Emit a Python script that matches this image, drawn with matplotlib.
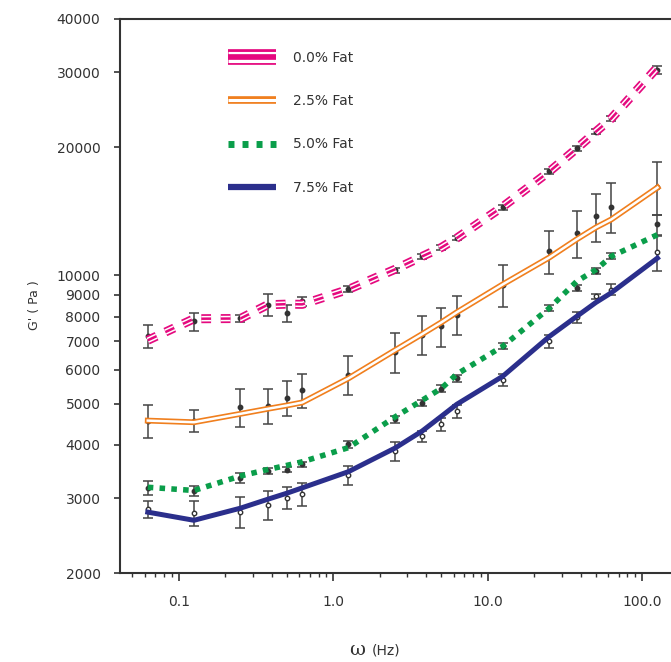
import matplotlib
matplotlib.use('Agg')
import matplotlib.pyplot as plt
from matplotlib.lines import Line2D
from matplotlib.ticker import FixedLocator, FixedFormatter, NullLocator, NullFormatter, LogLocator

# frecuencias (Hz)
freq = [0.0628, 0.125, 0.25, 0.375, 0.5, 0.628, 1.25, 2.5, 3.75, 5.0, 6.28,
        12.5, 25, 37.5, 50, 62.8, 125]

# G' medido y desviacion, por contenido de grasa
g0 = [7190, 7800, 7940, 8540, 8160, 8690, 9290, 10270, 11080, 11630, 12230,
      14460, 17540, 19880, 21760, 23380, 30340]
g0_err = [450, 380, 150, 500, 370, 200, 150, 150, 150, 150, 150,
          200, 250, 250, 300, 300, 700]
g0_fit = [7040, 7910, 7920, 8530, 8560, 8550, 9270, 10330, 11080, 11630, 12230,
          14510, 17540, 19850, 21760, 23350, 30800]

g25 = [4550, 4560, 4900, 4940, 5160, 5370, 5850, 6610, 7260, 7590, 8090,
       9510, 11380, 12560, 13750, 14510, 16170]
g25_err = [400, 275, 500, 470, 480, 500, 600, 710, 760, 810, 860,
           1090, 1330, 1570, 1800, 1950, 2300]
g25_fit = [4560, 4520, 4730, 4860, 4950, 5030, 5730, 6670, 7280, 7760, 8190,
           9530, 11020, 12150, 12960, 13530, 16080]

g50 = [3170, 3115, 3340, 3470, 3500, 3600, 4010, 4590, 5020, 5420, 5740,
       6820, 8380, 9340, 10220, 11080, 13170]
g50_err = [120, 80, 90, 60, 50, 50, 80, 80, 80, 100, 110,
           120, 130, 150, 170, 180, 700]
g50_fit = [3180, 3125, 3380, 3500, 3580, 3650, 3940, 4650, 5090, 5430, 5860,
           6820, 8380, 9680, 10310, 11080, 12460]

g75 = [2830, 2770, 2780, 2890, 3000, 3070, 3390, 3870, 4190, 4470, 4800,
       5690, 7000, 7970, 8930, 9260, 11320]
g75_err = [130, 190, 230, 220, 180, 190, 170, 200, 130, 150, 170,
           180, 250, 240, 130, 280, 1080]
g75_fit = [2780, 2660, 2840, 2980, 3080, 3170, 3460, 3930, 4310, 4670, 4980,
           5800, 7190, 8010, 8640, 9100, 10980]

labels = ['0.0% Fat', '2.5% Fat', '5.0% Fat', '7.5% Fat']
y_ticks = [2000, 3000, 4000, 5000, 6000, 7000, 8000, 9000, 10000, 20000, 30000, 40000]
x_ticks = [0.1, 1, 10, 100]
x_ticklabels = ['0.1', '1.0', '10.0', '100.0']

plt.rcParams['lines.scale_dashes'] = False
mag = '#e5097f'
ora = '#f07f1e'
gre = '#0a9e4a'
nav = '#2b2f8c'
gris = '#333333'

fig = plt.figure(figsize=(6.71, 6.62), dpi=100)
ax = fig.add_axes([0.1788, 0.1344, 0.8212, 0.8369])
ax.set_xscale('log')
ax.set_yscale('log')

# puntos con barras de error
eb = dict(fmt='o', ms=3.2, color=gris, ecolor='#444444', elinewidth=1.1,
          capsize=3.5, capthick=1.1, zorder=2)
ax.errorbar(freq, g0, yerr=g0_err, **eb)
ax.errorbar(freq, g25, yerr=g25_err, **eb)
ax.errorbar(freq, g50, yerr=g50_err, **eb)
ax.errorbar(freq, g75, yerr=g75_err, mfc='white', **eb)

# lineas
rayas = (7, 7)
ax.plot(freq, g0_fit, color=mag, lw=6.5, dashes=rayas, zorder=3)
ax.plot(freq, g0_fit, color='white', lw=4.0, dashes=rayas, zorder=3)
ax.plot(freq, g0_fit, color=mag, lw=1.8, dashes=rayas, zorder=3)

ax.plot(freq, g25_fit, color=ora, lw=4.2, zorder=3)
ax.plot(freq, g25_fit, color='white', lw=1.8, zorder=3)

ax.plot(freq, g50_fit, color=gre, lw=4.0, dashes=(4, 4.5), zorder=3)

ax.plot(freq, g75_fit, color=nav, lw=3.6, zorder=3)

ax.set_xlim(0.0415, 153)
ax.set_ylim(2000, 40000)

ax.yaxis.set_major_locator(FixedLocator(y_ticks))
ax.yaxis.set_major_formatter(FixedFormatter([str(v) for v in y_ticks]))
ax.yaxis.set_minor_locator(NullLocator())
ax.xaxis.set_major_locator(FixedLocator(x_ticks))
ax.xaxis.set_major_formatter(FixedFormatter(x_ticklabels))
ax.xaxis.set_minor_locator(LogLocator(base=10, subs=range(2, 10)))
ax.xaxis.set_minor_formatter(NullFormatter())

ax.tick_params(axis='x', which='major', length=6, width=1.2, pad=10,
               labelsize=10, colors=gris)
ax.tick_params(axis='x', which='minor', length=3, width=1.0, colors=gris)
ax.tick_params(axis='y', which='major', length=4, width=1.2, pad=10,
               labelsize=10, colors=gris)

ax.spines['right'].set_visible(False)
for s in ['left', 'bottom', 'top']:
    ax.spines[s].set_linewidth(1.5)
    ax.spines[s].set_color(gris)

# leyenda
h0 = (Line2D([], [], color=mag, lw=11.3, solid_capstyle='butt'),
      Line2D([], [], color='white', lw=8, solid_capstyle='butt'),
      Line2D([], [], color=mag, lw=4.1, solid_capstyle='butt'))
h25 = (Line2D([], [], color=ora, lw=5.5, solid_capstyle='butt'),
       Line2D([], [], color='white', lw=2.2, solid_capstyle='butt'))
h50 = Line2D([], [], color=gre, lw=5, dashes=(4.3, 5.8))
h75 = Line2D([], [], color=nav, lw=4.5, solid_capstyle='butt')
leg = ax.legend([h0, h25, h50, h75], labels, loc='upper left',
                bbox_to_anchor=(0.196, 0.942), frameon=False, handlelength=3.45,
                handletextpad=1.2, labelspacing=2.1, borderpad=0,
                borderaxespad=0, fontsize=10)
for t in leg.get_texts():
    t.set_color(gris)

fig.text(0.052, 0.539, "G' ( Pa )", rotation=90, fontsize=9, color=gris,
         ha='center', va='center')
fig.text(357 / 671, 1 - 650 / 662, 'ω', fontsize=14, family='DejaVu Serif',
         color=gris, ha='center', va='center')
fig.text(372 / 671, 1 - 650 / 662, '(Hz)', fontsize=10, color=gris,
         ha='left', va='center')

plt.savefig('out.png', dpi=100)
